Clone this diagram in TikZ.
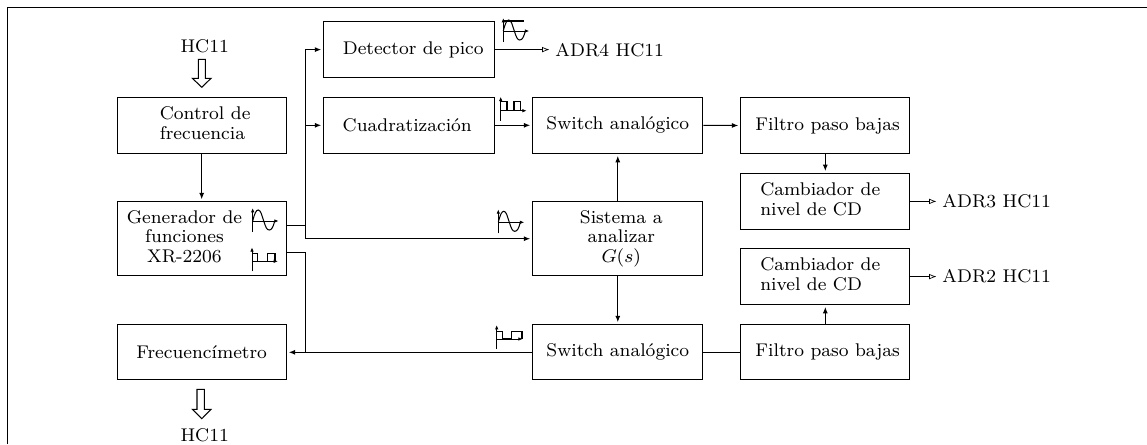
\documentclass[tikz,border=0pt]{standalone}
\usetikzlibrary{arrows.meta,calc}
\tikzset{
  x=0.435pt,y=-0.435pt,
  block/.style={draw,line width=0.45pt,inner sep=0pt,align=center,font=\fontsize{8}{8.5}\selectfont},
  lab/.style={inner sep=0pt,font=\fontsize{8}{8.5}\selectfont},
  wire/.style={line width=0.45pt},
  arr/.style={wire,-{Latex[length=2.8pt,width=2.2pt]},shorten >=0.9pt},
  oarr/.style={wire,-{Latex[open,length=3.2pt,width=2.4pt,line width=0.3pt]},shorten >=2.4pt},
  ico/.style={line width=0.35pt},
  icoa/.style={line width=0.35pt,-{Latex[length=1.9pt,width=1.5pt]}},
  hollow/.style={line width=0.45pt,fill=white},
}
\newcommand{\blk}[6]{\node[block,minimum width=#4*0.435pt-0.45pt,minimum height=#5*0.435pt-0.45pt] (#1) at (#2,#3) {#6};}
\newcommand{\sineicon}[2]{%
  \begin{scope}[shift={(#1,#2)}]
    \draw[icoa] (0,11) -- (0,-13);
    \draw[icoa] (0,0) -- (26,0);
    \draw[ico,line width=0.45pt] (0,0) .. controls (2,-8) and (3.5,-11) .. (5.5,-11)
      .. controls (8,-11) and (9,-6) .. (11,0) .. controls (13,6) and (14,9) .. (16.5,9)
      .. controls (19,9) and (20.5,6) .. (22,0);
  \end{scope}}
\newcommand{\squareicon}[7]{%
  \begin{scope}[shift={(#1,#2)}]
    \draw[icoa] (0,10) -- (0,-14);
    \draw[icoa] (0,0) -- (26,0);
    \draw[ico,line width=0.45pt] (0,-#3) -- (#4,-#3) -- (#4,0) -- (#5,0) -- (#5,-#3) -- (#6,-#3) -- (#6,0);
  \end{scope}}
\begin{document}
\begin{tikzpicture}
\useasboundingbox (0,0) rectangle (1147,444);
\draw[line width=0.45pt] (7.5,444) -- (7.5,7.5) -- (1147,7.5);

\blk{ctrl}{201.7}{125.4}{170}{57.5}{\hspace*{3pt}\begin{tabular}{@{}l@{}}Control de\\frecuencia\end{tabular}}
\blk{gen}{201.7}{238.7}{170}{74.7}{\hspace*{-15pt}\begin{tabular}{@{}c@{}}Generador de\\funciones\\XR-2206\end{tabular}}
\blk{frec}{201.7}{352.3}{170}{56.2}{Frecuencímetro}
\blk{det}{409}{49.6}{171.4}{56.6}{\hspace*{3.7pt}Detector de pico}
\blk{cuad}{409}{125.3}{171.4}{57}{\hspace*{-1.5pt}Cuadratización}
\blk{swa}{617.8}{125.3}{171}{57}{Switch analógico}
\blk{sis}{617.8}{238.7}{171}{74.7}{\hspace*{3pt}\begin{tabular}{@{}c@{}}Sistema a\\analizar\\$G(s)$\end{tabular}}
\blk{swb}{617.8}{352.3}{171}{56}{Switch analógico}
\blk{fpa}{825.3}{125.5}{170}{57.5}{\hspace*{2pt}Filtro paso bajas}
\blk{cam}{825.3}{201.4}{170}{56.6}{\hspace*{-4.4pt}\begin{tabular}{@{}l@{}}Cambiador de\\nivel de CD\end{tabular}}
\blk{cbm}{825.3}{276.6}{170}{56.6}{\hspace*{-4.4pt}\begin{tabular}{@{}l@{}}Cambiador de\\nivel de CD\end{tabular}}
\blk{fpb}{825.3}{352.3}{170}{56}{\hspace*{2pt}Filtro paso bajas}

\node[lab] (hcu) at (204.7,46) {HC11};
\node[lab] (hcd) at (204.7,435) {HC11};
\node[lab,anchor=west] (ad4) at (555,50) {ADR4 HC11};
\node[lab,anchor=west] (ad3) at (942,201.5) {ADR3 HC11};
\node[lab,anchor=west] (ad2) at (942,276.6) {ADR2 HC11};

\draw[hollow] (198.3,59.3) -- (205.3,59.3) -- (205.3,78.3) -- (211,78.3) -- (201.8,87.3) -- (192.4,78.3) -- (198.3,78.3) -- cycle;
\draw[hollow] (197,389.3) -- (204.3,389.3) -- (204.3,409.3) -- (211,409.3) -- (201.8,418.7) -- (192.4,409.3) -- (197,409.3) -- cycle;

\coordinate (bus) at (305.7,238.7);
\coordinate (sqb) at (305.7,352.3);
\coordinate (cbus) at (305.7,125.3);
\draw[arr] (ctrl) -- (gen);
\draw[wire] (gen.east |- 0,225.4) -- (bus |- 0,225.4);
\draw[arr] (bus) -- (sis.west |- bus);
\draw[arr] (bus) |- (det.west);
\draw[arr] (cbus) -- (cuad.west);
\draw[wire] (gen.east |- 0,252.4) -| (sqb);
\draw[arr] (swb.west) -- (frec.east);
\draw[wire] (fpb.west) -- (swb.east);
\draw[arr] (cuad.east) -- (swa.west);
\draw[arr] (swa.east) -- (fpa.west);
\draw[arr] (fpa) -- (cam);
\draw[arr] (fpb) -- (cbm);
\draw[arr] (sis) -- (swa);
\draw[arr] (sis) -- (swb);
\draw[oarr] (det.east) -- (ad4.west |- det.east);
\draw[oarr] (cam.east) -- (ad3.west |- cam.east);
\draw[oarr] (cbm.east) -- (ad2.west |- cbm.east);

\sineicon{503.3}{31}
\draw[ico,line width=0.45pt] (503.3,21) -- (524,21);
\sineicon{252.7}{221}
\sineicon{498.3}{222.3}
\squareicon{252}{261.3}{8}{5.3}{15.7}{23}{26}
\squareicon{500.7}{110.7}{9}{6.3}{13.3}{20}{26}
\squareicon{496.7}{339}{7.5}{6}{15}{25.3}{26}
\end{tikzpicture}
\end{document}
